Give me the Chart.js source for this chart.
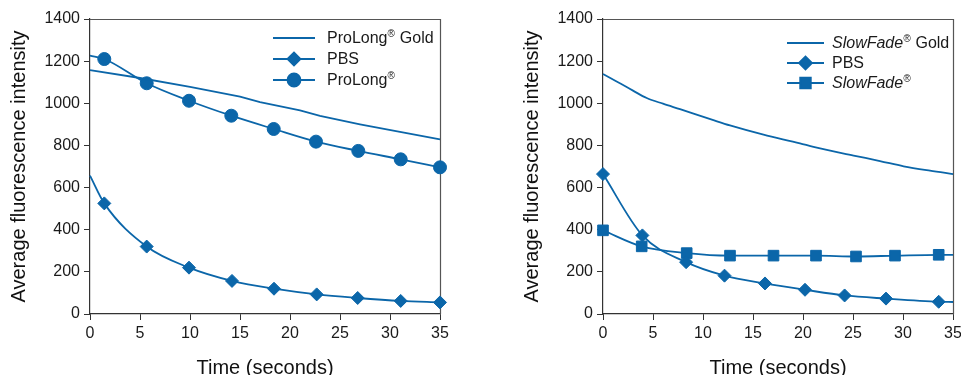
<!DOCTYPE html>
<html><head><meta charset="utf-8">
<script src="https://cdn.jsdelivr.net/npm/chart.js@4"></script>
<style>
html,body{margin:0;padding:0;background:#fff;}
#wrap{position:relative;width:961px;height:375px;overflow:hidden;background:#fff;}
#c1{position:absolute;left:0;top:0;}
#c2{position:absolute;left:480px;top:0;}
</style></head><body>
<div id="wrap"><canvas id="c1" width="480" height="375"></canvas><canvas id="c2" width="520" height="375"></canvas></div>
<script>
// ---- tick labels ----
const xTickValues = [0, 5, 10, 15, 20, 25, 30, 35];
const yTickValues = [0, 200, 400, 600, 800, 1000, 1200, 1400];
const xTitle = 'Time (seconds)';
const yTitle = 'Average fluorescence intensity';

// ---- left panel ----
const leftLabels = ['ProLong® Gold', 'PBS', 'ProLong®'];
const leftGoldTime = [0, 5, 10, 15, 17, 21, 23, 27, 31, 35];
const leftGoldValue = [1157, 1120, 1078, 1032, 1005, 966, 940, 900, 864, 829];
const leftPBSTime = [0, 1.43, 5.67, 9.9, 14.2, 18.4, 22.67, 26.77, 31.07, 35];
const leftPBSValue = [657, 525, 320, 220, 157, 120, 93, 76, 62, 55];
const leftPBSMarked = [false, true, true, true, true, true, true, true, true, true];
const leftProLongTime = [0, 1.43, 5.67, 9.9, 14.13, 18.37, 22.6, 26.83, 31.07, 35];
const leftProLongValue = [1226, 1210, 1095, 1012, 941, 878, 818, 774, 734, 696];
const leftProLongMarked = [false, true, true, true, true, true, true, true, true, true];

// ---- right panel ----
const rightLabels = ['SlowFade® Gold', 'PBS', 'SlowFade®'];
const italicNames = ['SlowFade'];
const rightGoldTime = [0, 1.5, 3.0, 4.37, 6.0, 7.7, 11.04, 12.7, 16.05, 19.7, 21.05, 25.06, 27.7, 30.06, 32.7, 35];
const rightGoldValue = [1139, 1100, 1060, 1025, 998, 972, 920, 895, 851, 810, 793, 752, 726, 701, 680, 664];
const rightPBSTime = [0, 3.94, 8.31, 12.15, 16.2, 20.2, 24.16, 28.3, 33.57, 35];
const rightPBSValue = [664, 373, 246, 182, 145, 115, 88, 73, 58, 57];
const rightPBSMarked = [true, true, true, true, true, true, true, true, true, false];
const rightSlowFadeTime = [0, 3.87, 8.37, 12.7, 17.05, 21.3, 25.3, 29.2, 33.57, 35];
const rightSlowFadeValue = [397, 321, 289, 277, 277, 277, 273, 277, 281, 281];
const rightSlowFadeMarked = [true, true, true, true, true, true, true, true, true, false];

const BLUE = '#0b66a9';
const FONT = '"Liberation Sans", Arial, Helvetica, sans-serif';
const AXIS = '#333333';

function pts(t, v) { return t.map((x, i) => ({x: x, y: v[i]})); }

function series(label, t, v, marked, style, r, smooth) {
  return {
    label: label,
    data: pts(t, v),
    borderColor: BLUE,
    backgroundColor: BLUE,
    borderWidth: 1.8,
    pointStyle: style || false,
    legendRadius: style ? r : 0,
    pointRadius: marked ? marked.map(m => m ? r : 0) : 0,
    pointHoverRadius: 0,
    pointBorderWidth: 1,
    cubicInterpolationMode: smooth ? 'monotone' : 'default',
    tension: 0,
    clip: 12
  };
}

const framePlugin = {
  id: 'frame',
  beforeDatasetsDraw(chart) {
    const {ctx, chartArea: a} = chart;
    ctx.save();
    ctx.strokeStyle = '#555';
    ctx.lineWidth = 1.2;
    ctx.beginPath();
    ctx.moveTo(a.left, a.top + 0.5);
    ctx.lineTo(a.right + 0.5, a.top + 0.5);
    ctx.lineTo(a.right + 0.5, a.bottom);
    ctx.stroke();
    ctx.restore();
  }
};

function tokenize(label) {
  const re = new RegExp('(' + italicNames.join('|') + '|®)');
  const toks = label.split(re).filter(s => s.length);
  const out = [];
  let prevItalic = false;
  toks.forEach(tk => {
    if (tk === '®') out.push({t: tk, sup: true, it: prevItalic});
    else { const it = italicNames.includes(tk); out.push({t: tk, sup: false, it: it}); prevItalic = it; }
  });
  return out;
}

const legendPlugin = {
  id: 'inlineLegend',
  afterDraw(chart, args, o) {
    const ctx = chart.ctx;
    chart.data.datasets.forEach((ds, i) => {
      const y = o.y + i * o.gap;
      ctx.save();
      ctx.strokeStyle = BLUE; ctx.fillStyle = BLUE; ctx.lineWidth = ds.borderWidth;
      ctx.beginPath(); ctx.moveTo(o.x, y); ctx.lineTo(o.x + o.len, y); ctx.stroke();
      if (ds.pointStyle) {
        Chart.helpers.drawPoint(ctx, {pointStyle: ds.pointStyle, radius: ds.legendRadius, rotation: 0, borderWidth: 1}, o.x + o.len / 2, y);
      }
      let cx = o.x + o.len + o.textGap;
      const base = y + 5.3;
      ctx.fillStyle = '#1a1a1a';
      ctx.textBaseline = 'alphabetic';
      ctx.textAlign = 'left';
      tokenize(ds.label).forEach(r => {
        const size = r.sup ? 10 : 16;
        ctx.font = (r.it ? 'italic ' : '') + size + 'px ' + FONT;
        ctx.fillText(r.t, cx, r.sup ? base - 6 : base);
        cx += ctx.measureText(r.t).width + (r.sup ? 0.5 : 0);
      });
      ctx.restore();
    });
  }
};

function makeChart(id, datasets, legendOpts, padLeft, padRight) {
  return new Chart(document.getElementById(id), {
    type: 'line',
    data: {datasets: datasets},
    plugins: [framePlugin, legendPlugin],
    options: {
      responsive: false,
      animation: false,
      devicePixelRatio: 1,
      layout: {padding: {left: padLeft, right: padRight, top: 19, bottom: 0}},
      plugins: {legend: {display: false}, tooltip: {enabled: false}, inlineLegend: legendOpts},
      scales: {
        x: {
          type: 'linear', min: 0, max: 35,
          afterBuildTicks: s => { s.ticks = xTickValues.map(v => ({value: v})); },
          afterFit: s => { s.height = 61; s.paddingLeft = 0; s.paddingRight = 0; },
          grid: {display: true, drawOnChartArea: false, drawTicks: true, tickLength: 6, color: AXIS, lineWidth: 1},
          border: {display: true, color: AXIS, width: 1.2},
          ticks: {font: {family: FONT, size: 16}, color: '#1a1a1a', padding: 4, maxRotation: 0, autoSkip: false, callback: v => String(v)},
          title: {display: true, text: xTitle, font: {family: FONT, size: 20, lineHeight: 0.7}, color: '#111', padding: {top: 0, bottom: 0}}
        },
        y: {
          type: 'linear', min: 0, max: 1400,
          afterBuildTicks: s => { s.ticks = yTickValues.map(v => ({value: v})); },
          afterFit: s => { s.width = 90; s.paddingTop = 0; s.paddingBottom = 0; },
          grid: {display: true, drawOnChartArea: false, drawTicks: true, tickLength: 6, color: AXIS, lineWidth: 1},
          border: {display: true, color: AXIS, width: 1.2},
          ticks: {font: {family: FONT, size: 16}, color: '#1a1a1a', padding: 4, autoSkip: false, callback: v => String(v)},
          title: {display: true, text: yTitle, font: {family: FONT, size: 20, lineHeight: 0.9}, color: '#111', padding: {top: 10, bottom: 0}}
        }
      }
    }
  });
}

makeChart('c1', [
  series(leftLabels[0], leftGoldTime, leftGoldValue, null, null, 0, false),
  series(leftLabels[1], leftPBSTime, leftPBSValue, leftPBSMarked, 'rectRot', 6.5, true),
  series(leftLabels[2], leftProLongTime, leftProLongValue, leftProLongMarked, 'circle', 6.5, true)
], {x: 273, y: 38, gap: 21, len: 42, textGap: 12}, 0, 40);

makeChart('c2', [
  series(rightLabels[0], rightGoldTime, rightGoldValue, null, null, 0, true),
  series(rightLabels[1], rightPBSTime, rightPBSValue, rightPBSMarked, 'rectRot', 6.5, true),
  series(rightLabels[2], rightSlowFadeTime, rightSlowFadeValue, rightSlowFadeMarked, 'rect', 7.5, true)
], {x: 307, y: 43, gap: 20, len: 37, textGap: 8}, 33, 47);
</script>
</body></html>
